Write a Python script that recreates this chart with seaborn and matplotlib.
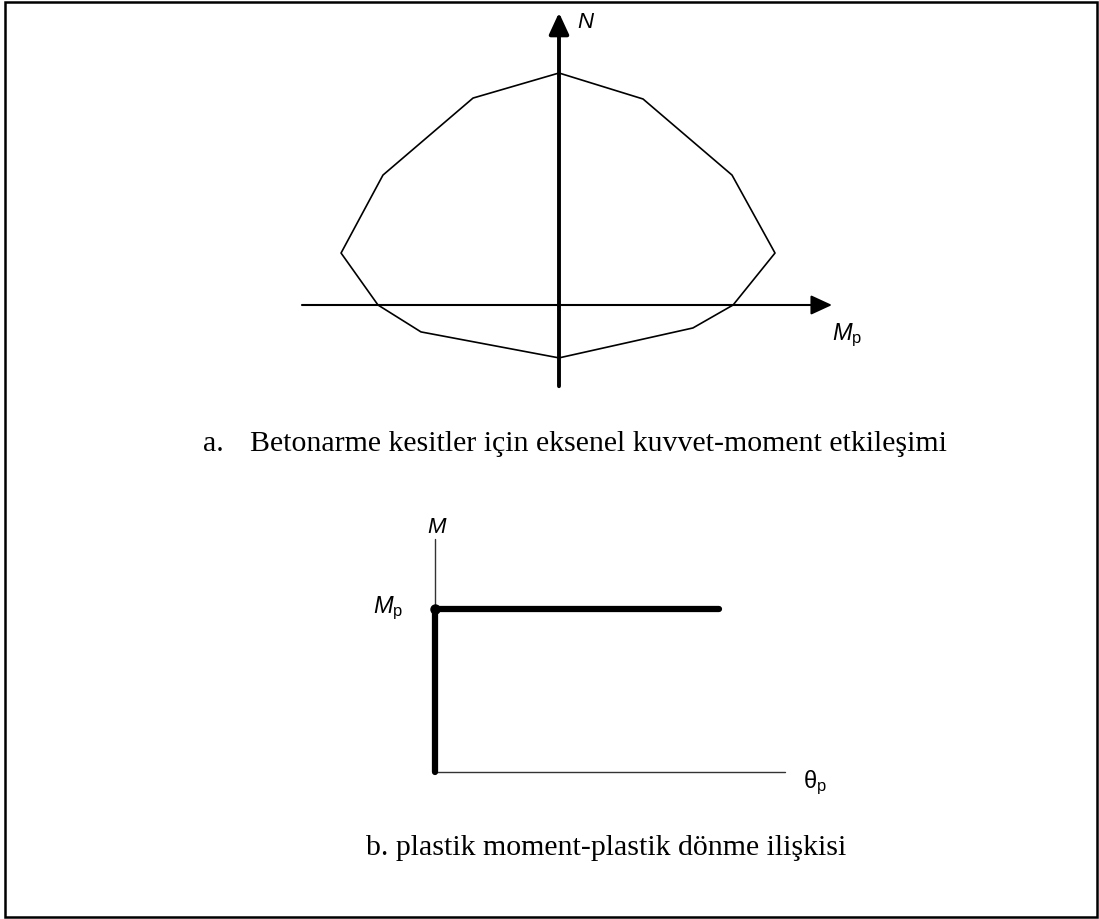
import numpy as np
import matplotlib
matplotlib.use("Agg")
import matplotlib.pyplot as plt
import seaborn as sns
from matplotlib.patches import Rectangle

# interaction diagram vertices (moment / axial force, normalised)
moment_a = [0.0, 0.389, 0.801, 1.0, 0.806, 0.620, 0.0, -0.639, -0.838, -1.009, -0.815, -0.398]
axial_a = [1.0, 0.888, 0.560, 0.224, 0.0, -0.099, -0.228, -0.116, 0.0, 0.224, 0.560, 0.892]

# rigid-plastic moment-rotation relation
theta_b = [0.0, 0.0, 1.0]
moment_b = [0.0, 1.0, 1.0]

caption_a = "Betonarme kesitler için eksenel kuvvet-moment etkileşimi"
caption_b = "b. plastik moment-plastik dönme ilişkisi"

W, H = 1099, 919

sns.set_theme(style="white")
plt.rcParams["font.family"] = ["Liberation Sans", "DejaVu Sans"]
plt.rcParams["text.color"] = "black"
plt.rcParams["mathtext.fontset"] = "custom"
plt.rcParams["mathtext.it"] = "Liberation Sans:italic"
plt.rcParams["mathtext.rm"] = "Liberation Sans"


def panel(fig, top, bottom, x0, y0, sx, sy):
    # axes strip of the figure whose origin sits at pixel (x0, y0)
    ax = fig.add_axes([0, 1 - bottom / H, 1, (bottom - top) / H])
    ax.set_xlim((0 - x0) / sx, (W - x0) / sx)
    ax.set_ylim((y0 - bottom) / sy, (y0 - top) / sy)
    ax.axis("off")
    ax.patch.set_alpha(0)
    return ax


fig = plt.figure(figsize=(W / 100, H / 100), dpi=100)
fig.patch.set_facecolor("white")

bg = fig.add_axes([0, 0, 1, 1])
bg.set_xlim(0, W)
bg.set_ylim(H, 0)
bg.axis("off")
bg.add_patch(Rectangle((5, 1.5), 1092, 915.5, fill=False, lw=1.8, ec="black"))

# ---- panel a
ax1 = panel(fig, 0, 460, 559, 305, 216, 232)
arrow_kw = dict(arrowstyle="-|>,head_length=13,head_width=6", mutation_scale=1,
                color="black", shrinkA=0, shrinkB=0)
ax1.annotate("", xy=(1.264, 0), xytext=(-1.19, 0), arrowprops=dict(lw=1.5, **arrow_kw))
ax1.annotate("", xy=(0, 1.26), xytext=(0, -0.35), arrowprops=dict(lw=2.8, **arrow_kw))
sns.lineplot(x=np.r_[moment_a, moment_a[:1]], y=np.r_[axial_a, axial_a[:1]],
             sort=False, estimator=None, color="black", lw=1.2, ax=ax1)
ax1.text(0.083, 1.194, "N", fontsize=16, style="italic", ha="left", va="baseline")
ax1.text(1.264, -0.151, r"$M_{\mathrm{p}}$", fontsize=17, ha="left", va="baseline")

# ---- panel b
ax2 = panel(fig, 460, H, 435, 772, 284, 163)
ax2.plot([0, 1.232], [0, 0], color="#333333", lw=1.0)
ax2.plot([0, 0], [0, 1.43], color="#333333", lw=1.0)
sns.lineplot(x=theta_b, y=moment_b, sort=False, estimator=None, color="black",
             lw=4.5, solid_capstyle="round", ax=ax2)
ax2.plot(theta_b[1], moment_b[1], "o", color="black", ms=6.5)
ax2.text(0.007, 1.465, "M", fontsize=16, style="italic", ha="center", va="baseline")
ax2.text(-0.113, 0.975, r"$M_{\mathrm{p}}$", fontsize=17, ha="right", va="baseline")
ax2.text(1.296, -0.098, r"θ$_{\mathrm{p}}$", fontsize=17, ha="left", va="baseline")

# captions
serif = ["Liberation Serif", "DejaVu Serif"]
bg.text(203, 451, "a.", fontsize=21.5, family=serif, va="baseline")
bg.text(250, 451, caption_a, fontsize=21.5, family=serif, va="baseline")
bg.text(366, 855, caption_b, fontsize=21.5, family=serif, va="baseline")

fig.savefig("out.png", dpi=100)
